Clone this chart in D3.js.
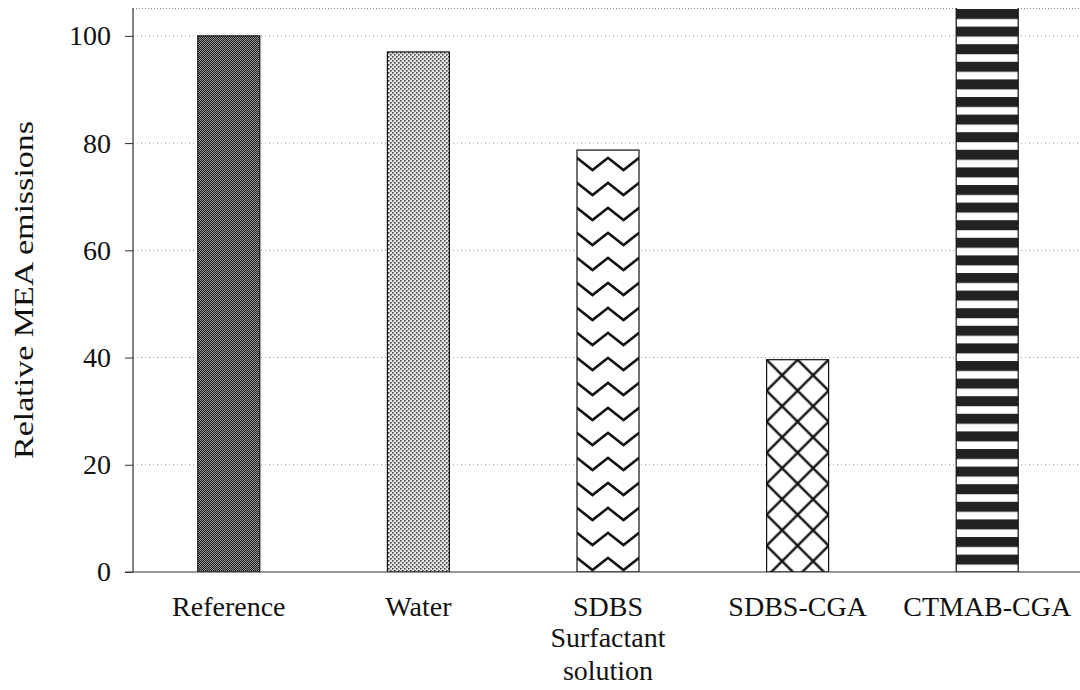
<!DOCTYPE html>
<html>
<head>
<meta charset="utf-8">
<script src="https://cdn.jsdelivr.net/npm/d3@7"></script>
<style>
  html, body { margin: 0; padding: 0; background: #fff; }
  svg { display: block; }
  svg text { font-family: "Liberation Serif", "Times New Roman", Times, "DejaVu Serif", serif !important; fill: #111; }
</style>
</head>
<body>
<svg id="chart" width="1080" height="690"></svg>
<script>
// Relative MEA emissions per surfactant solution
const categories = ["Reference", "Water", "SDBS", "SDBS-CGA", "CTMAB-CGA"];
const emissions = [100, 97, 78.7, 39.6, 110];
const fills = ["checker", "dots", "zigzag", "cross", "stripes"];
const yTicks = [0, 20, 40, 60, 80, 100];
const yTitle = "Relative MEA emissions";
const xTitle = ["Surfactant", "solution"];

const serif = "'Liberation Serif', 'Times New Roman', Times, 'DejaVu Serif', serif";

const svg = d3.select("#chart");
const W = 1080, H = 690;
const m = { left: 133, top: 8, bottom: 572, right: 1082 };

const x = d3.scaleBand()
  .domain(categories)
  .range([m.left + 1, m.right])
  .paddingInner(0.673)
  .paddingOuter(0.3365);

const y = d3.scaleLinear().domain([0, 105.2]).range([m.bottom, m.top]);

// fill patterns
const defs = svg.append("defs");

const pChecker = defs.append("pattern").attr("id", "checker")
  .attr("patternUnits", "userSpaceOnUse").attr("width", 2).attr("height", 2);
pChecker.append("rect").attr("width", 2).attr("height", 2).attr("fill", "#1a1a1a");
pChecker.append("rect").attr("width", 1).attr("height", 1).attr("fill", "#9a9a9a");
pChecker.append("rect").attr("x", 1).attr("y", 1).attr("width", 1).attr("height", 1).attr("fill", "#9a9a9a");

const pDots = defs.append("pattern").attr("id", "dots")
  .attr("patternUnits", "userSpaceOnUse").attr("width", 4).attr("height", 4);
pDots.append("rect").attr("width", 4).attr("height", 4).attr("fill", "#e6e6e6");
pDots.append("rect").attr("width", 1.6).attr("height", 1.6).attr("fill", "#444");
pDots.append("rect").attr("x", 2).attr("y", 2).attr("width", 1.6).attr("height", 1.6).attr("fill", "#444");

const pZig = defs.append("pattern").attr("id", "zigzag")
  .attr("patternUnits", "userSpaceOnUse").attr("width", 31).attr("height", 25)
  .attr("x", x("SDBS")).attr("y", 4);
pZig.append("rect").attr("width", 31).attr("height", 25).attr("fill", "#fff");
pZig.append("path").attr("d", "M-1,3 L15.5,16 L32,3")
  .attr("fill", "none").attr("stroke", "#111").attr("stroke-width", 2.6);

const pCross = defs.append("pattern").attr("id", "cross")
  .attr("patternUnits", "userSpaceOnUse").attr("width", 31).attr("height", 31)
  .attr("x", x("SDBS-CGA")).attr("y", y(39.6));
pCross.append("rect").attr("width", 31).attr("height", 31).attr("fill", "#fff");
pCross.append("path").attr("d", "M-2,-2 L33,33 M-2,33 L33,-2")
  .attr("fill", "none").attr("stroke", "#111").attr("stroke-width", 2.4);

const pStripes = defs.append("pattern").attr("id", "stripes")
  .attr("patternUnits", "userSpaceOnUse").attr("width", 10).attr("height", 17.6)
  .attr("y", m.top);
pStripes.append("rect").attr("width", 10).attr("height", 17.6).attr("fill", "#fff");
pStripes.append("rect").attr("y", 1).attr("width", 10).attr("height", 10).attr("fill", "#222");

defs.append("clipPath").attr("id", "plotClip")
  .append("rect").attr("x", m.left).attr("y", m.top)
  .attr("width", W - m.left).attr("height", m.bottom - m.top);

// grid lines and top border
const grid = svg.append("g");
grid.selectAll("line.g").data(yTicks.filter(d => d > 0)).join("line")
  .attr("x1", m.left).attr("x2", W)
  .attr("y1", d => y(d)).attr("y2", d => y(d))
  .attr("stroke", "#999").attr("stroke-width", 1).attr("stroke-dasharray", "1,3");
grid.append("line")
  .attr("x1", m.left).attr("x2", W).attr("y1", m.top + 0.5).attr("y2", m.top + 0.5)
  .attr("stroke", "#888").attr("stroke-width", 1).attr("stroke-dasharray", "1,2");

// bars
svg.append("g").attr("clip-path", "url(#plotClip)")
  .selectAll("rect").data(categories).join("rect")
  .attr("x", d => x(d))
  .attr("width", x.bandwidth())
  .attr("y", (d, i) => y(emissions[i]))
  .attr("height", (d, i) => y(0) - y(emissions[i]))
  .attr("fill", (d, i) => `url(#${fills[i]})`)
  .attr("stroke", "#111").attr("stroke-width", 1.2);

// y axis
const yAxis = svg.append("g").attr("transform", `translate(${m.left},0)`)
  .call(d3.axisLeft(y).tickValues(yTicks).tickSize(8).tickPadding(14).tickFormat(d3.format("d")))
  .attr("font-family", serif);
yAxis.select(".domain").remove();
yAxis.selectAll(".tick line").attr("stroke", "#333");
yAxis.selectAll(".tick text")
  .attr("font-family", serif).attr("font-size", 28).attr("fill", "#111");
yAxis.append("line").attr("x1", 0).attr("x2", 0).attr("y1", m.top).attr("y2", m.bottom)
  .attr("stroke", "#333").attr("stroke-width", 1.2);

// x axis
const xAxis = svg.append("g").attr("transform", `translate(0,${m.bottom})`)
  .call(d3.axisBottom(x).tickSize(0).tickPadding(24))
  .attr("font-family", serif);
xAxis.select(".domain").remove();
xAxis.selectAll(".tick text")
  .attr("font-family", serif).attr("font-size", 28).attr("fill", "#111");
xAxis.append("line").attr("x1", m.left - 8).attr("x2", W).attr("y1", 0).attr("y2", 0)
  .attr("stroke", "#333").attr("stroke-width", 1.2);

// titles
svg.append("text")
  .attr("transform", `translate(33,290) rotate(-90)`)
  .attr("text-anchor", "middle")
  .attr("font-family", serif)
  .attr("font-size", 28)
  .attr("textLength", 338).attr("lengthAdjust", "spacingAndGlyphs")
  .text(yTitle);

svg.append("text")
  .attr("text-anchor", "middle")
  .attr("font-family", serif)
  .attr("font-size", 28)
  .selectAll("tspan").data(xTitle).join("tspan")
  .attr("x", x("SDBS") + x.bandwidth() / 2)
  .attr("y", (d, i) => 647 + i * 33)
  .text(d => d);
</script>
</body>
</html>
